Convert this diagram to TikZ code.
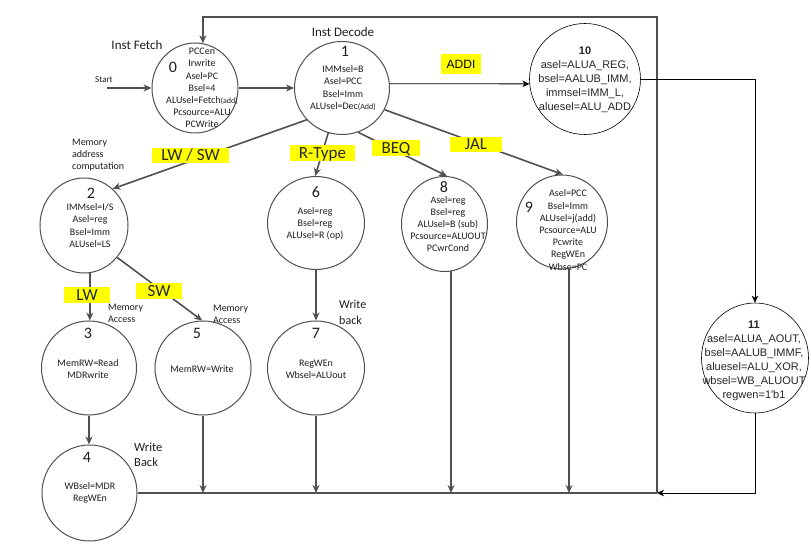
\documentclass[tikz,border=0pt]{standalone}
\usepackage{fontspec}
\setmainfont{Carlito}
\newfontfamily\arialf{Liberation Sans}
\usetikzlibrary{shapes.geometric,arrows.meta}
\definecolor{lgray}{RGB}{80,80,80}
\definecolor{txtgray}{RGB}{30,30,30}
\definecolor{hl}{RGB}{255,255,0}
\begin{document}
\begin{tikzpicture}[x=1pt,y=-1pt,
 st/.style={ellipse, draw=lgray, line width=1pt, inner sep=0pt},
 dst/.style={ellipse, draw=black, line width=0.6pt, inner sep=0pt},
 tx/.style={align=center, font=\fontsize{10}{12.2}\selectfont, text=txtgray, inner sep=0pt},
 num/.style={font=\fontsize{16}{16}\selectfont, text=txtgray, inner sep=0pt},
 dtx/.style={align=center, font=\arialf\fontsize{11}{14}\selectfont, text=black!85, inner sep=0pt},
 lbl/.style={align=left, anchor=west, text=txtgray, inner sep=0pt},
 hbox/.style={fill=hl, inner sep=0pt, text height=11pt, text depth=0pt, font=\fontsize{17}{17}\selectfont, text=black!85},
 gl/.style={draw=lgray, line width=1.6pt},
 garr/.style={gl, -{Stealth[length=8pt,width=7pt]}},
 barr/.style={draw=black, line width=0.8pt, -{Stealth[length=7pt,width=6.5pt,inset=2pt]}},
]
\useasboundingbox[fill=white] (0,0) rectangle (811,545);

% states
\node[st, minimum width=86pt, minimum height=90pt] (s0) at (195,88) {};
\node[st, minimum width=95pt, minimum height=93pt] (s1) at (342,88) {};
\node[dst, minimum width=111pt, minimum height=111pt] (s10) at (585,79) {};
\node[dst, minimum width=107pt, minimum height=110pt] (s11) at (755,358) {};
\node[st, minimum width=88pt, minimum height=95pt] (s2) at (84,225.5) {};
\node[st, minimum width=97pt, minimum height=93pt] (s6) at (316,223) {};
\node[st, minimum width=86pt, minimum height=95pt] (s8) at (444.5,224) {};
\node[st, minimum width=91pt, minimum height=94pt] (s9) at (562,222) {};
\node[st, minimum width=95pt, minimum height=94pt] (s3) at (89,368) {};
\node[st, minimum width=96pt, minimum height=94pt] (s5) at (203,368) {};
\node[st, minimum width=97pt, minimum height=94pt] (s7) at (316,368) {};
\node[st, minimum width=95pt, minimum height=96pt] (s4) at (89.5,493) {};

% state texts
\node[num] (n0) at (173,67) {0};
\node[tx] (t0) at (202,88) {PCCen\\Irwrite\\Asel=PC\\Bsel=4\\ALUsel=Fetch{\fontsize{8}{12}\selectfont(add)}\\Pcsource=ALU\\PCWrite};
\node[num] (n1) at (345,51) {1};
\node[tx] (t1) at (343,88) {IMMsel=B\\Asel=PCC\\Bsel=Imm\\ALUsel=Dec{\fontsize{8}{12}\selectfont(Add)}};
\node[num] (n2) at (91,193) {2};
\node[tx] (t2) at (90,225.5) {IMMsel=I/S\\Asel=reg\\Bsel=Imm\\ALUsel=LS};
\node[num] (n6) at (316,192) {6};
\node[tx] (t6) at (315,224) {Asel=reg\\Bsel=reg\\ALUsel=R (op)};
\node[num] (n8) at (444,187) {8};
\node[tx] (t8) at (448,224) {Asel=reg\\Bsel=reg\\ALUsel=B (sub)\\Pcsource=ALUOUT\\PCwrCond};
\node[num] (n9) at (529,207) {9};
\node[tx] (t9) at (568,230) {Asel=PCC\\Bsel=Imm\\ALUsel=j(add)\\Pcsource=ALU\\Pcwrite\\RegWEn\\Wbse=PC};
\node[num] (n3) at (88,333) {3};
\node[tx] (t3) at (88,369) {MemRW=Read\\MDRwrite};
\node[num] (n5) at (197,333) {5};
\node[tx] (t5) at (202,369) {MemRW=Write};
\node[num] (n7) at (316,333) {7};
\node[tx] (t7) at (316,369) {RegWEn\\Wbsel=ALUout};
\node[num] (n4) at (87,457) {4};
\node[tx] (t4) at (90,493) {WBsel=MDR\\RegWEn};
\node[dtx] (t10) at (585,80) {\textbf{10}\\asel=ALUA\_REG,\\bsel=AALUB\_IMM,\\immsel=IMM\_L,\\aluesel=ALU\_ADD};
\node[dtx] (t11) at (754,360.5) {\textbf{11}\\asel=ALUA\_AOUT,\\bsel=AALUB\_IMMF,\\aluesel=ALU\_XOR,\\wbsel=WB\_ALUOUT\\regwen=1\textquotesingle b1};

% plain labels
\node[text=txtgray, font=\fontsize{13}{13}\selectfont, inner sep=0pt] (lf) at (137,45) {Inst Fetch};
\node[text=txtgray, font=\fontsize{13}{13}\selectfont, inner sep=0pt] (ld) at (343,32) {Inst Decode};
\node[text=txtgray, font=\fontsize{9}{9}\selectfont, inner sep=0pt] (ls) at (104,80) {Start};
\node[lbl, font=\fontsize{10}{12}\selectfont] (lmac) at (72,155) {Memory\\address\\computation};
\node[lbl, font=\fontsize{10}{12}\selectfont] (lma3) at (108,313) {Memory\\Access};
\node[lbl, font=\fontsize{10}{12}\selectfont] (lma5) at (213,314) {Memory\\Access};
\node[lbl, font=\fontsize{12}{16}\selectfont] (lwb7) at (339,312) {Write\\back};
\node[lbl, font=\fontsize{12.5}{15}\selectfont] (lwb4) at (134,454.5) {Write\\Back};

% coordinates
\coordinate (st) at (107,88);
\coordinate (jr) at (657,493);
\coordinate (tr) at (657,17);
\coordinate (x8) at (451,300);
\coordinate (x9) at (569,300);

% connectors (gray, original)
\draw[garr] (st) -- (s0.west);
\draw[garr] (s0.east) -- (s1.west);
\draw[garr] (s1.222) -- (s2.52);
\draw[garr] (s1.253) -- (s6.91);
\draw[garr] (s1.290) -- (s8.87);
\draw[garr] (s1.333) -- (s9.89);
\draw[garr] (s2.277) -- (s2.277 |- s3.north);
\draw[garr] (s2.316) -- (s5.91);
\draw[garr] (s6.south) -- (s6.south |- s7.north);
\draw[garr] (s3.south) -- (s3.south |- s4.north);
\draw[garr] (s5.south) -- (s5.south |- jr);
\draw[garr] (s7.south) -- (s7.south |- jr);
\draw[garr] (x8 |- s8.278) -- (x8 |- jr);
\draw[garr] (x9 |- s9.279) -- (x9 |- jr);
\draw[gl] (s4.east) -- (jr);
\draw[garr] (jr) -- (tr) -| (s0.80);

% connectors (black, added)
\draw[barr] (s1.5) -- (s10.185);
\draw[barr] (s10.east) -| (s11.north);
\draw[barr] (s11.south) |- (jr);

% highlighted labels
\node[hbox, minimum width=77pt, minimum height=15pt] (hlwsw) at (190.5,155.5) {LW / SW};
\node[hbox, minimum width=65pt, minimum height=16pt] (hr) at (322.5,153) {R-Type};
\node[hbox, minimum width=48pt, minimum height=16pt] (hbeq) at (396,148) {BEQ};
\node[hbox, minimum width=52pt, minimum height=15pt] (hjal) at (476,144.5) {JAL};
\node[hbox, minimum width=46pt, minimum height=16pt] (hlw) at (87,295) {LW};
\node[hbox, minimum width=46pt, minimum height=16pt] (hsw) at (159,291) {SW};
\node[fill=hl, inner sep=0pt, minimum width=40pt, minimum height=20pt, font=\arialf\fontsize{12}{12}\selectfont, text=black] (haddi) at (461,64) {ADDI};
\end{tikzpicture}
\end{document}
